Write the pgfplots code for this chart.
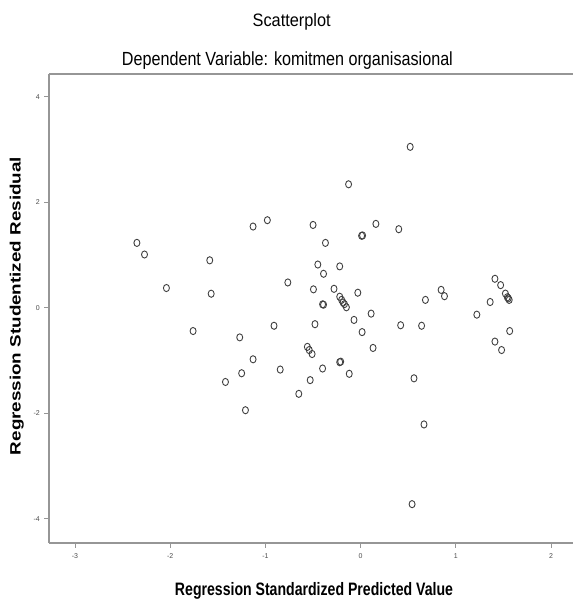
\documentclass[border=0pt]{standalone}
\usepackage{pgfplots}
\pgfplotsset{compat=1.18}
\usepackage{fontspec}
\setmainfont{Liberation Sans}
\usepackage{graphicx}
\definecolor{axgray}{RGB}{150,150,150}
\begin{document}
\begin{tikzpicture}[x=1pt,y=1pt]
\useasboundingbox (0,0) rectangle (573,601);
\begin{axis}[
  at={(49.3pt,58.3pt)}, anchor=south west,
  scale only axis, width=523.7pt, height=468.7pt,
  xmin=-3.27, xmax=2.23, ymin=-4.45, ymax=4.43,
  axis lines*=left,
  axis line style={axgray, line width=2.2pt},
  xtick={-3,-2,-1,0,1,2}, ytick={-4,-2,0,2,4},
  tick align=outside, major tick length=5pt,
  tick style={axgray, line width=1pt},
  /pgf/number format/assume math mode=true,
  ticklabel style={font=\fontsize{7}{8}\selectfont, text=black!70},
  xticklabel style={yshift=-2pt},
  yticklabel style={xshift=-1pt},
  clip=false,
]
\addplot[only marks, mark=o, mark size=3pt,
  mark options={yscale=1.2, line width=0.9pt, draw=black!75}]
  table {
x y
-2.35 1.23
-2.27 1.01
-2.04 0.375
-1.585 0.90
-1.57 0.267
-1.76 -0.44
-1.13 1.54
-0.98 1.66
-1.27 -0.56
-0.91 -0.34
-0.765 0.48
-1.13 -0.975
-1.25 -1.24
-1.42 -1.405
-0.845 -1.17
-0.65 -1.63
-0.50 1.57
-0.37 1.23
-0.45 0.82
-0.39 0.645
-0.22 0.785
-0.496 0.35
-0.40 0.066
-0.39 0.06
-0.28 0.36
-0.22 0.21
-0.20 0.15
-0.185 0.10
-0.17 0.07
-0.15 0.01
-0.03 0.286
-0.07 -0.23
0.11 -0.11
0.015 -0.46
0.13 -0.76
-0.48 -0.31
-0.56 -0.74
-0.54 -0.80
-0.51 -0.875
-0.40 -1.15
-0.22 -1.03
-0.21 -1.02
-0.12 -1.25
-0.53 -1.37
0.01 1.365
0.02 1.37
0.16 1.59
0.40 1.49
0.42 -0.33
0.64 -0.34
0.68 0.15
0.845 0.34
0.88 0.22
0.56 -1.335
1.22 -0.13
1.36 0.11
1.41 0.55
1.47 0.43
1.52 0.27
1.54 0.20
1.55 0.18
1.56 0.15
1.565 -0.44
1.41 -0.64
1.48 -0.80
0.52 3.05
-0.127 2.34
-1.21 -1.94
0.665 -2.21
0.54 -3.72
};
\draw[axgray, line width=2.2pt] (rel axis cs:0,1) -- (rel axis cs:1,1);
\end{axis}
\node[anchor=base, inner sep=0pt] at (291.7,574) {\resizebox{78pt}{\height}{\fontsize{18}{20}\selectfont Scatterplot}};
\node[anchor=base, inner sep=0pt] at (287.4,535) {\resizebox{331pt}{\height}{\fontsize{19}{21}\selectfont Dependent Variable: komitmen organisasional}};
\node[anchor=base, inner sep=0pt] at (314,5.5) {\resizebox{278pt}{\height}{\fontsize{18}{20}\selectfont\bfseries Regression Standardized Predicted Value}};
\node[anchor=center, rotate=90] at (16.8,295) {\resizebox{298pt}{\height}{\fontsize{15}{17}\selectfont\bfseries Regression Studentized Residual}};
\end{tikzpicture}
\end{document}
